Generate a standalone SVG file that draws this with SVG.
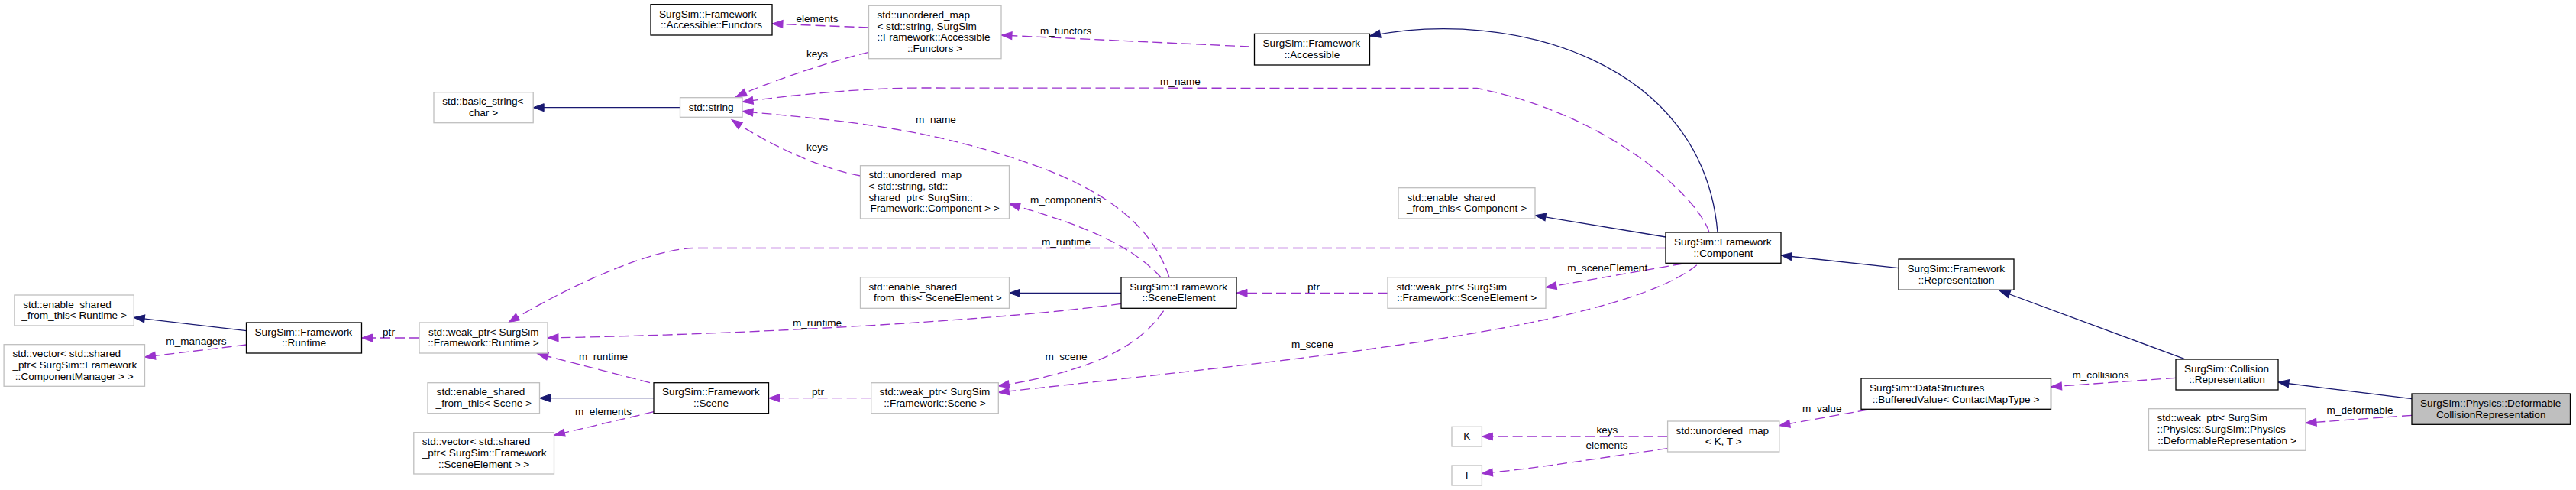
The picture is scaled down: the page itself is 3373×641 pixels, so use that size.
<svg xmlns="http://www.w3.org/2000/svg" width="3373" height="641" viewBox="0 0 3373 641">
<style>
text{font-family:"Liberation Sans",Arial,Helvetica,sans-serif;font-size:13.6px;fill:#000}
.g{fill:#fff;stroke:#bfbfbf;stroke-width:1.3}
.b{fill:#fff;stroke:#000;stroke-width:1.3}
.m{fill:#bfbfbf;stroke:#000;stroke-width:1.3}
.c{text-anchor:middle}
.inh{fill:none;stroke:#191970;stroke-width:1.3;marker-end:url(#an)}
.use{fill:none;stroke:#9a32cd;stroke-width:1.3;stroke-dasharray:13,6;marker-end:url(#ap)}
</style>
<defs>
<marker id="an" markerWidth="16" markerHeight="12" refX="14" refY="5" orient="auto" markerUnits="userSpaceOnUse" overflow="visible"><path d="M0,0 L14,5 L0,10 Z" fill="#191970" stroke="#191970" stroke-width="1"/></marker>
<marker id="ap" markerWidth="16" markerHeight="12" refX="14" refY="5" orient="auto" markerUnits="userSpaceOnUse" overflow="visible"><path d="M0,0 L14,5 L0,10 Z" fill="#9a32cd" stroke="#9a32cd" stroke-width="1"/></marker>
</defs>
<rect x="0" y="0" width="3373" height="641" fill="#fff"/>

<g id="edges">
<path class="inh" d="M322.5,432.7 L175.3,415.3"/>
<path class="use" d="M322.5,451 L189.5,467"/>
<text class="c" x="257" y="450.5">m_managers</text>
<path class="use" d="M549,442 L473.5,442"/>
<text class="c" x="509" y="438.5">ptr</text>
<path class="use" d="M2181,324.5 L909,324.5 C860,325 760,365 666,421.7"/>
<text class="c" x="1396" y="321.2">m_runtime</text>
<path class="use" d="M1468,397.3 C1320,418 1000,437 717,442"/>
<text class="c" x="1070" y="427.2">m_runtime</text>
<path class="use" d="M851,500.7 L703.6,462.7"/>
<text class="c" x="790" y="471.2">m_runtime</text>
<path class="inh" d="M856,520.7 L706.5,520.7"/>
<path class="use" d="M856,538.7 L725.5,569.3"/>
<text class="c" x="790" y="542.5">m_elements</text>
<path class="use" d="M1140.7,520.7 L1006.5,520.7"/>
<text class="c" x="1071" y="517.2">ptr</text>
<path class="inh" d="M890.5,140.7 L698.2,140.7"/>
<path class="use" d="M1137.5,36 L1011,31"/>
<text class="c" x="1070" y="28.8">elements</text>
<path class="use" d="M1137.5,68.3 C1080,82 1000,110 963.6,126.7"/>
<text class="c" x="1070" y="74.5">keys</text>
<path class="use" d="M2238,304 C2225,260 2110,150 1934,115.5 L1200,115 C1120,116 1040,124 972,133.3"/>
<text class="c" x="1545.5" y="111.2">m_name</text>
<path class="use" d="M1531,362.7 C1500,270 1400,220 1229,180 C1140,160 1040,152 972,145.7"/>
<text class="c" x="1225.5" y="161.2">m_name</text>
<path class="use" d="M1127,230 C1070,220 1000,185 958,156.7"/>
<text class="c" x="1070" y="197.2">keys</text>
<path class="use" d="M1636,61 L1311,46"/>
<text class="c" x="1395.6" y="45.2">m_functors</text>
<path class="use" d="M1520,362.7 C1480,320 1420,295 1321.5,266.7"/>
<text class="c" x="1395.6" y="266.2">m_components</text>
<path class="inh" d="M1468,383.3 L1321.5,383.3"/>
<path class="inh" d="M2249,304 C2230,80 1980,10 1793.5,47"/>
<path class="inh" d="M2181,310 L2010,281.7"/>
<path class="use" d="M1817,383.3 L1619,383.3"/>
<text class="c" x="1720" y="379.5">ptr</text>
<path class="use" d="M1523.6,406.7 C1490,455 1430,485 1307.3,505"/>
<text class="c" x="1396" y="471.2">m_scene</text>
<path class="use" d="M2221.8,346.7 C2120,430 1700,470 1307.3,513.3"/>
<text class="c" x="1718.5" y="455.2">m_scene</text>
<path class="use" d="M2203.6,345 L2024,376"/>
<text class="c" x="2104.7" y="354.5">m_sceneElement</text>
<path class="use" d="M2183.6,571 L1940.4,571"/>
<text class="c" x="2104.4" y="567.2">keys</text>
<path class="use" d="M2183.6,586.7 C2100,598 2020,612 1940.4,619.3"/>
<text class="c" x="2104" y="587.2">elements</text>
<path class="inh" d="M2486,350.7 L2332,334"/>
<path class="inh" d="M2860,469.3 L2618,380"/>
<path class="use" d="M2445.5,536 L2329.8,556.7"/>
<text class="c" x="2385.8" y="539.2">m_value</text>
<path class="use" d="M2849,494.3 L2685.5,506"/>
<text class="c" x="2750.5" y="495.2">m_collisions</text>
<path class="inh" d="M3158,521.7 L2983,500"/>
<path class="use" d="M3158,543.3 L3019,553.3"/>
<text class="c" x="3090" y="541.2">m_deformable</text>
</g>

<g id="n_enable_runtime"><rect class="g" x="18.9" y="386" width="156.4" height="40"/><text x="30.2" y="402.65">std::enable_shared</text><text class="c" x="97.1" y="417.35">_from_this&lt; Runtime &gt;</text></g>
<g id="n_runtime"><rect class="b" x="322.5" y="422" width="151" height="40"/><text x="333.5" y="438.65">SurgSim::Framework</text><text class="c" x="398" y="453.35">::Runtime</text></g>
<g id="n_vector_cm"><rect class="g" x="5.1" y="450.7" width="184.4" height="54.6"/><text x="16.4" y="467.3">std::vector&lt; std::shared</text><text x="16.4" y="482">_ptr&lt; SurgSim::Framework</text><text class="c" x="97.3" y="496.7">::ComponentManager &gt; &gt;</text></g>
<g id="n_weak_runtime"><rect class="g" x="549" y="422" width="168" height="40"/><text x="561" y="438.65">std::weak_ptr&lt; SurgSim</text><text class="c" x="633" y="453.35">::Framework::Runtime &gt;</text></g>
<g id="n_enable_scene"><rect class="g" x="560" y="500.7" width="146.5" height="40"/><text x="571.6" y="517.35">std::enable_shared</text><text class="c" x="633.3" y="532.05">_from_this&lt; Scene &gt;</text></g>
<g id="n_scene"><rect class="b" x="856" y="500.7" width="150.5" height="40"/><text x="867" y="517.35">SurgSim::Framework</text><text class="c" x="931" y="532.05">::Scene</text></g>
<g id="n_vector_se"><rect class="g" x="541.8" y="565.7" width="183.7" height="54.3"/><text x="552.7" y="582.15">std::vector&lt; std::shared</text><text x="552.7" y="596.85">_ptr&lt; SurgSim::Framework</text><text class="c" x="633.6" y="611.55">::SceneElement &gt; &gt;</text></g>
<g id="n_basic_string"><rect class="g" x="568" y="120.7" width="130.2" height="40"/><text x="579.3" y="137.35">std::basic_string&lt;</text><text class="c" x="633" y="152.05">char &gt;</text></g>
<g id="n_string"><rect class="g" x="890.5" y="127.7" width="81.5" height="25.6"/><text class="c" x="931.2" y="144.5">std::string</text></g>
<g id="n_functors"><rect class="b" x="852" y="5.7" width="159" height="40.3"/><text x="863" y="22.5">SurgSim::Framework</text><text class="c" x="931.5" y="37.2">::Accessible::Functors</text></g>
<g id="n_umap_functors"><rect class="g" x="1137.5" y="7.3" width="173.5" height="69.4"/><text x="1148.4" y="23.95">std::unordered_map</text><text x="1148.4" y="38.65">&lt; std::string, SurgSim</text><text x="1148.4" y="53.35">::Framework::Accessible</text><text class="c" x="1224" y="68.05">::Functors &gt;</text></g>
<g id="n_umap_component"><rect class="g" x="1126.5" y="216.7" width="195" height="69.3"/><text x="1137.5" y="233.3">std::unordered_map</text><text x="1137.5" y="248">&lt; std::string, std::</text><text x="1137.5" y="262.7">shared_ptr&lt; SurgSim::</text><text class="c" x="1224" y="277.4">Framework::Component &gt; &gt;</text></g>
<g id="n_accessible"><rect class="b" x="1642.5" y="44.3" width="151" height="40.7"/><text x="1653.5" y="61.3">SurgSim::Framework</text><text class="c" x="1718" y="76">::Accessible</text></g>
<g id="n_enable_se"><rect class="g" x="1126.5" y="362.7" width="195" height="40.6"/><text x="1137.5" y="379.65">std::enable_shared</text><text class="c" x="1224" y="394.35">_from_this&lt; SceneElement &gt;</text></g>
<g id="n_scene_element"><rect class="b" x="1468" y="362.7" width="151" height="40.6"/><text x="1479.3" y="379.65">SurgSim::Framework</text><text class="c" x="1543.5" y="394.35">::SceneElement</text></g>
<g id="n_weak_scene"><rect class="g" x="1140.7" y="500.7" width="166.6" height="40"/><text x="1151.6" y="517.35">std::weak_ptr&lt; SurgSim</text><text class="c" x="1224" y="532.05">::Framework::Scene &gt;</text></g>
<g id="n_enable_component"><rect class="g" x="1831" y="245.7" width="179" height="40.3"/><text x="1842.5" y="262.5">std::enable_shared</text><text class="c" x="1920.5" y="277.2">_from_this&lt; Component &gt;</text></g>
<g id="n_component"><rect class="b" x="2181" y="304" width="151" height="40.3"/><text x="2192" y="320.8">SurgSim::Framework</text><text class="c" x="2256.5" y="335.5">::Component</text></g>
<g id="n_weak_se"><rect class="g" x="1817" y="362.7" width="207" height="40.6"/><text x="1828.4" y="379.65">std::weak_ptr&lt; SurgSim</text><text class="c" x="1920.5" y="394.35">::Framework::SceneElement &gt;</text></g>
<g id="n_k"><rect class="g" x="1901" y="558.3" width="39.4" height="25.7"/><text class="c" x="1920.7" y="575.15">K</text></g>
<g id="n_t"><rect class="g" x="1901" y="609" width="39.4" height="26"/><text class="c" x="1920.7" y="626">T</text></g>
<g id="n_umap_kt"><rect class="g" x="2183.6" y="551" width="146.2" height="40"/><text x="2194.5" y="567.65">std::unordered_map</text><text class="c" x="2256.7" y="582.35">&lt; K, T &gt;</text></g>
<g id="n_fw_representation"><rect class="b" x="2486" y="339" width="151" height="40.3"/><text x="2497.5" y="355.8">SurgSim::Framework</text><text class="c" x="2561.5" y="370.5">::Representation</text></g>
<g id="n_buffered"><rect class="b" x="2437" y="495" width="248.5" height="40.3"/><text x="2448" y="511.8">SurgSim::DataStructures</text><text class="c" x="2561" y="526.5">::BufferedValue&lt; ContactMapType &gt;</text></g>
<g id="n_collision_rep"><rect class="b" x="2849" y="470" width="134" height="40"/><text x="2860" y="486.65">SurgSim::Collision</text><text class="c" x="2916" y="501.35">::Representation</text></g>
<g id="n_deformable"><rect class="m" x="3158" y="515" width="207.5" height="40.3"/><text x="3169" y="531.8">SurgSim::Physics::Deformable</text><text class="c" x="3261.7" y="546.5">CollisionRepresentation</text></g>
<g id="n_weak_deformable"><rect class="g" x="2813.5" y="534.7" width="205.5" height="54.6"/><text x="2824.4" y="551.3">std::weak_ptr&lt; SurgSim</text><text x="2824.4" y="566">::Physics::SurgSim::Physics</text><text class="c" x="2916" y="580.7">::DeformableRepresentation &gt;</text></g>
</svg>
